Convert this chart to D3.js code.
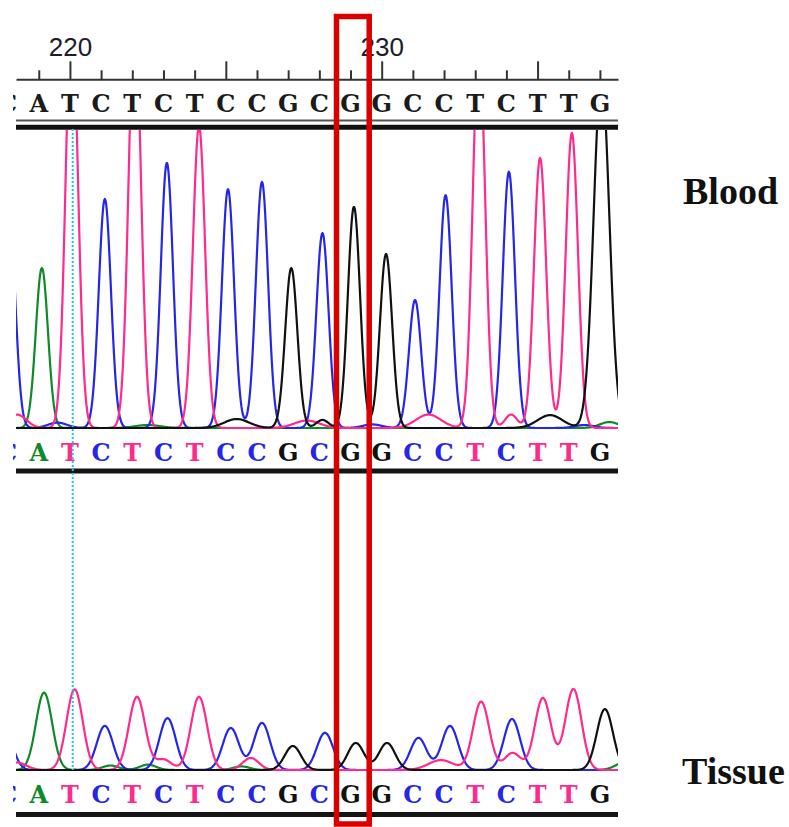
<!DOCTYPE html>
<html>
<head>
<meta charset="utf-8">
<title>Chromatogram</title>
<script src="https://cdn.jsdelivr.net/npm/d3@7"></script>
<style>
    body {
        margin: 0;
        padding: 0;
        background-color: white;
    }
    svg { display: block; }
    .axis text {
        font-family: "Liberation Sans", Arial, sans-serif;
        font-size: 26px;
        fill: #1c1c2a;
    }
    .axis line, .axis path {
        stroke: #333;
        stroke-width: 2px;
    }
    .seq {
        font-family: "DejaVu Serif", serif;
        font-weight: bold;
        font-size: 24px;
    }
    .sample-label {
        font-family: "Liberation Serif", serif;
        font-weight: bold;
        font-size: 38px;
        fill: #111;
    }
    .trace {
        fill: none;
        stroke-width: 2.2px;
        stroke-linejoin: round;
    }
</style>
</head>
<body>
<svg id="chart" width="789" height="827"></svg>
<script>
// base calls, first one (218) is only partly visible at the left edge
const firstBase = 218;
const sequence = ["C","A","T","C","T","C","T","C","C","G","C","G","G","C","C","T","C","T","T","G"];

const tickBases = [219,220,221,222,223,224,225,226,227,228,229,230,231,232,233,234,235,236,237];
const majorTicks = [220, 225, 230, 235];
const labelTicks = [220, 230];

const cursorBase = 220.09;   // dotted cyan cursor
const highlightBase = 229;   // red box

// peaks: [base position, signal height, optional width in bases]
const bloodA = [[219.1, 535], [222.5, 10, 0.4], [237.3, 20, 0.3]];
const bloodC = [[218.05, 720], [219.6, 18, 0.3], [221.12, 766], [223.11, 887], [225.07, 799],
                [226.16, 823], [228.1, 652], [229.7, 12, 0.3], [231.07, 428], [232.05, 779],
                [234.08, 857], [236.5, 10, 0.3]];
const bloodG = [[225.35, 30, 0.4], [227.1, 535], [228.1, 27], [229.11, 740], [230.14, 582],
                [235.4, 43, 0.4], [237.05, 1180, 0.25]];
const bloodT = [[218.3, 45, 0.3], [220.06, 1400], [222.08, 1400], [224.14, 1010], [227.6, 25, 0.4],
                [231.5, 45, 0.4], [233.12, 1300], [234.15, 45], [235.08, 903], [236.1, 987]];

const tissueA = [[219.17, 258], [221.3, 15], [222.5, 18], [225.5, 12], [237.8, 25, 0.3]];
const tissueC = [[217.9, 135], [221.12, 147], [223.13, 173], [225.16, 140], [226.16, 157],
                 [228.18, 124], [231.18, 107], [232.19, 147], [234.18, 170]];
const tissueG = [[227.15, 80], [229.17, 90], [230.17, 90], [237.16, 203]];
const tissueT = [[218.3, 25, 0.3], [220.15, 269], [222.15, 244], [223.0, 35], [224.14, 244],
                 [225.8, 40], [231.9, 33, 0.4], [233.19, 228], [234.2, 57], [235.17, 240], [236.15, 270]];

const colors = { A: "#0e8a2a", C: "#2626e6", G: "#111111", T: "#ff2a8c" };

const svg = d3.select("#chart");

const x = d3.scaleLinear().domain([218.27, 237.58]).range([16, 618]);
const yBlood = d3.scaleLinear().domain([0, 1000]).range([428, 129]);
const yTissue = d3.scaleLinear().domain([0, 1000]).range([770, 470]);

const defs = svg.append("defs");
function addClip(id, y0, y1) {
    defs.append("clipPath").attr("id", id)
        .append("rect")
        .attr("x", x.range()[0]).attr("y", y0)
        .attr("width", x.range()[1] - x.range()[0]).attr("height", y1 - y0);
}
addClip("clipBlood", 130, 438);
addClip("clipTissue", 474, 780);
defs.append("clipPath").attr("id", "clipSeq")
    .append("rect").attr("x", 13).attr("y", 0).attr("width", 605).attr("height", 827);

// position ruler
const axis = d3.axisTop(x)
    .tickValues(tickBases)
    .tickSize(9)
    .tickSizeOuter(0)
    .tickFormat(d => labelTicks.includes(d) ? d : "");

const axisG = svg.append("g")
    .attr("class", "axis")
    .attr("transform", "translate(0,79.3)")
    .call(axis);
axisG.selectAll(".tick line")
    .attr("y2", d => majorTicks.includes(d) ? -18 : -9);
axisG.selectAll(".tick text")
    .attr("y", -23);

// sequence letter rows
const letters = sequence.map((b, i) => ({ base: firstBase + i, call: b }));

function letterRow(yPos, colored) {
    svg.append("g")
        .attr("clip-path", "url(#clipSeq)")
        .selectAll("text")
        .data(letters)
        .enter()
        .append("text")
        .attr("class", "seq")
        .attr("x", d => x(d.base))
        .attr("y", yPos)
        .attr("text-anchor", "middle")
        .attr("dominant-baseline", "central")
        .attr("fill", d => colored ? colors[d.call] : "#1b1b1b")
        .text(d => d.call);
}
letterRow(103, false);
letterRow(452, true);
letterRow(794, true);

// separator lines
function hline(yPos, w, c) {
    svg.append("line")
        .attr("x1", x.range()[0]).attr("x2", x.range()[1])
        .attr("y1", yPos).attr("y2", yPos)
        .style("stroke", c).style("stroke-width", w);
}
hline(120.5, 2, "#555");
hline(127.3, 5, "#111");
hline(471, 5, "#151515");
hline(814.5, 5, "#151515");

// traces
const grid = d3.range(218.0, 237.7, 0.02);
function signal(peaks, sigma) {
    return grid.map(b => {
        let v = 0;
        peaks.forEach(p => {
            const s = p[2] || sigma;
            v += p[1] * Math.exp(-((b - p[0]) ** 2) / (2 * s * s));
        });
        return [b, v];
    });
}

function drawPanel(clipId, yScale, sigma, channels) {
    const g = svg.append("g").attr("clip-path", `url(#${clipId})`);
    const line = d3.line()
        .x(d => x(d[0]))
        .y(d => yScale(d[1]));
    channels.forEach(ch => {
        g.append("path")
            .attr("class", "trace")
            .attr("d", line(signal(ch.peaks, sigma)))
            .style("stroke", colors[ch.base]);
    });
}

drawPanel("clipBlood", yBlood, 0.195, [
    { base: "A", peaks: bloodA },
    { base: "C", peaks: bloodC },
    { base: "T", peaks: bloodT },
    { base: "G", peaks: bloodG }
]);
drawPanel("clipTissue", yTissue, 0.26, [
    { base: "A", peaks: tissueA },
    { base: "C", peaks: tissueC },
    { base: "T", peaks: tissueT },
    { base: "G", peaks: tissueG }
]);

// cursor
svg.append("line")
    .attr("x1", x(cursorBase)).attr("x2", x(cursorBase))
    .attr("y1", yBlood(1000)).attr("y2", yTissue(0))
    .style("stroke", "#1ec8ea")
    .style("stroke-width", 2)
    .style("stroke-dasharray", "2,2");

// highlighted base
svg.append("rect")
    .attr("x", x(highlightBase - 0.45))
    .attr("y", 16.5)
    .attr("width", x(highlightBase + 0.6) - x(highlightBase - 0.45))
    .attr("height", 807.5)
    .style("fill", "none")
    .style("stroke", "#d90000")
    .style("stroke-width", 5.5);

svg.append("text").attr("class", "sample-label")
    .attr("x", 683).attr("y", 204).text("Blood");
svg.append("text").attr("class", "sample-label")
    .attr("x", 682).attr("y", 784).text("Tissue");
</script>
</body>
</html>
